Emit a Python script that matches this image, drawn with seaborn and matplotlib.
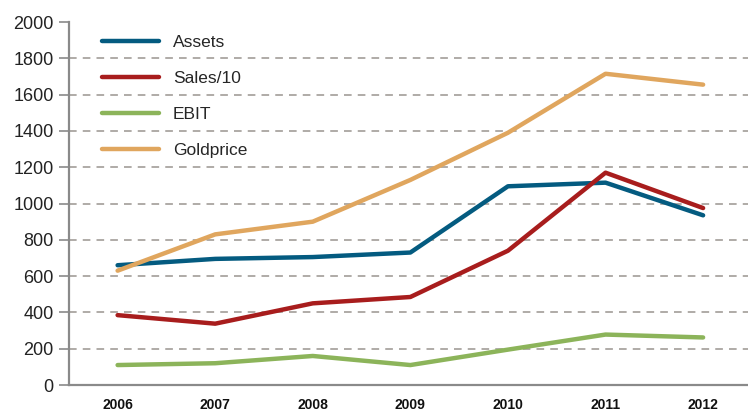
import pandas as pd
import matplotlib.pyplot as plt
import seaborn as sns
from matplotlib.ticker import FixedLocator, NullFormatter

years = ["2006", "2007", "2008", "2009", "2010", "2011", "2012"]
assets = [660, 695, 705, 730, 1095, 1115, 935]
sales_10 = [385, 338, 450, 485, 740, 1170, 975]
ebit = [110, 120, 160, 110, 195, 278, 262]
goldprice = [630, 830, 900, 1130, 1390, 1715, 1655]

series = {"Assets": assets, "Sales/10": sales_10, "EBIT": ebit, "Goldprice": goldprice}
colors = {"Assets": "#045b80", "Sales/10": "#a81d1d", "EBIT": "#8cb45a", "Goldprice": "#e0a65e"}

rows = []
for name, vals in series.items():
    for i, v in enumerate(vals):
        rows.append({"pos": i, "year": years[i], "value": v, "series": name})
df = pd.DataFrame(rows)

sns.set_theme(style="white")
plt.rcParams['font.family'] = ['Liberation Sans', 'DejaVu Sans']

fig = plt.figure(figsize=(7.48, 4.12), dpi=100)
ax = fig.add_axes([0.092, 0.0655, 0.908, 0.881])

sns.lineplot(data=df, x="pos", y="value", hue="series", palette=colors,
             linewidth=3.2, ax=ax, legend=True)

ax.set_ylim(0, 2000)
ax.set_xlim(-0.5, 6.46)
ax.set_yticks(range(0, 2001, 200))
ax.set_yticklabels([str(v) for v in range(0, 2001, 200)], fontsize=13, color="#222222")
for y in range(200, 2000, 200):
    ax.axhline(y, color="#9a9490", linestyle=(0, (5, 4)), linewidth=1.1, zorder=0)

ax.set_xticks(range(len(years)))
ax.set_xticklabels(years, fontsize=10, fontweight="bold", color="#111111")
ax.xaxis.set_minor_locator(FixedLocator([i - 0.5 for i in range(len(years) + 1)]))
ax.xaxis.set_minor_formatter(NullFormatter())
ax.tick_params(axis="x", which="major", length=0, pad=9)
ax.tick_params(axis="x", which="minor", length=7, width=1.2, color="#8a8a8a", direction="out")
ax.tick_params(axis="y", length=7, width=1.2, color="#8a8a8a", direction="out", left=True, pad=4)

ax.set_xlabel("")
ax.set_ylabel("")
for s in ["top", "right"]:
    ax.spines[s].set_visible(False)
for s in ["left", "bottom"]:
    ax.spines[s].set_color("#8a8a8a")
    ax.spines[s].set_linewidth(1.6)

leg = ax.legend(loc="upper left", frameon=False, fontsize=12.5, handlelength=3.3,
                labelspacing=1.2, handletextpad=0.8, borderaxespad=0.2,
                bbox_to_anchor=(0.033, 0.993))
for line in leg.get_lines():
    line.set_linewidth(3.2)

fig.savefig("out.png", dpi=100)
